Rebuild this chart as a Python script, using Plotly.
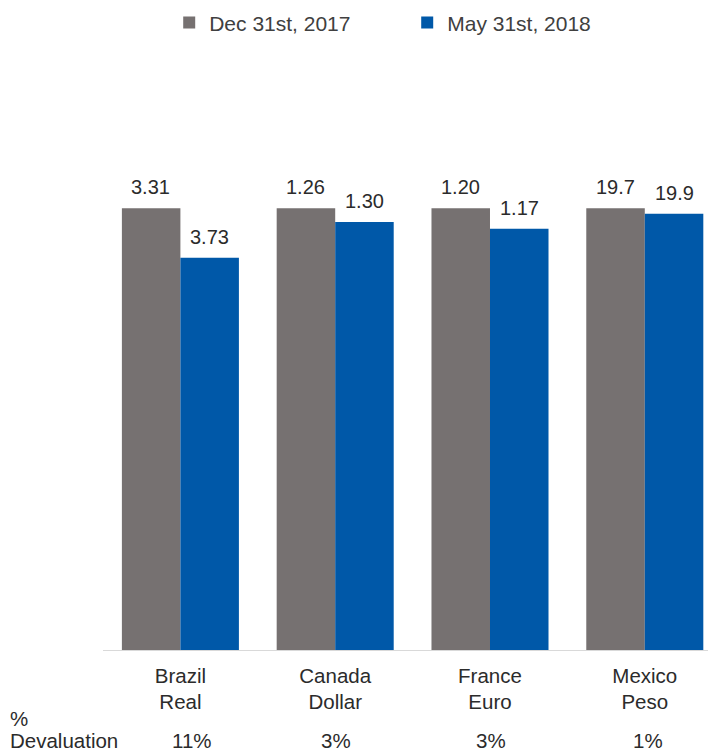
import plotly.graph_objects as go

categories = ["Brazil<br>Real", "Canada<br>Dollar", "France<br>Euro", "Mexico<br>Peso"]
rate_dec2017 = ["3.31", "1.26", "1.20", "19.7"]
rate_may2018 = ["3.73", "1.30", "1.17", "19.9"]
index_dec2017 = [100, 100, 100, 100]
index_may2018 = [88.8, 96.9, 95.4, 98.8]
devaluation = ["11%", "3%", "3%", "1%"]
series_names = ["Dec 31st, 2017", "May 31st, 2018"]

GRAY = "#767171"
BLUE = "#0058A8"
TXT = "#2b2b2b"
FONT = "Liberation Sans, Arial, sans-serif"
FS = 20.5

# The page body has an 8px default margin; the figure is sized to fit the window.
fig = go.Figure()
fig.add_trace(go.Bar(x=categories, y=index_dec2017, name=series_names[0],
                     marker=dict(color=GRAY, line=dict(width=0))))
fig.add_trace(go.Bar(x=categories, y=index_may2018, name=series_names[1],
                     marker=dict(color=BLUE, line=dict(width=0))))

off = 0.19
dev_xshift = [12, 1, 1, 3]
for i in range(len(categories)):
    fig.add_annotation(x=i - off, y=index_dec2017[i], text=rate_dec2017[i],
                       showarrow=False, yanchor="middle", yshift=21,
                       font=dict(size=20, color=TXT, family=FONT))
    fig.add_annotation(x=i + off, y=index_may2018[i], text=rate_may2018[i],
                       showarrow=False, yanchor="middle", yshift=21,
                       font=dict(size=20, color=TXT, family=FONT))
    fig.add_annotation(x=i, y=0, yref="y", text=devaluation[i], showarrow=False,
                       yanchor="middle", yshift=-90, xshift=dev_xshift[i],
                       font=dict(size=FS, color=TXT, family=FONT))

fig.add_annotation(xref="paper", x=-0.155, y=0, yref="y", yshift=-68, text="%",
                   showarrow=False, xanchor="left", yanchor="middle",
                   font=dict(size=FS, color=TXT, family=FONT))
fig.add_annotation(xref="paper", x=-0.155, y=0, yref="y", yshift=-90, text="Devaluation",
                   showarrow=False, xanchor="left", yanchor="middle",
                   font=dict(size=FS, color=TXT, family=FONT))

fig.update_layout(
    width=708, height=746,
    margin=dict(l=95, r=0, t=112, b=104),
    paper_bgcolor="white", plot_bgcolor="white",
    barmode="group", bargap=0.244, bargroupgap=0,
    font=dict(family=FONT, size=FS, color=TXT),
    legend=dict(orientation="h", yref="container", y=0.98, yanchor="middle",
                xref="paper", x=0.108, xanchor="left",
                entrywidth=193, font=dict(size=21, color="#404040")),
    xaxis=dict(range=[-0.5, 3.46], showline=True, linecolor="#D9D9D9", linewidth=1,
               ticks="", showgrid=False, ticklabelstandoff=7,
               tickfont=dict(size=FS, color=TXT)),
    yaxis=dict(range=[0, 120], visible=False, showgrid=False, zeroline=False),
)

fig.write_html("out.html")
